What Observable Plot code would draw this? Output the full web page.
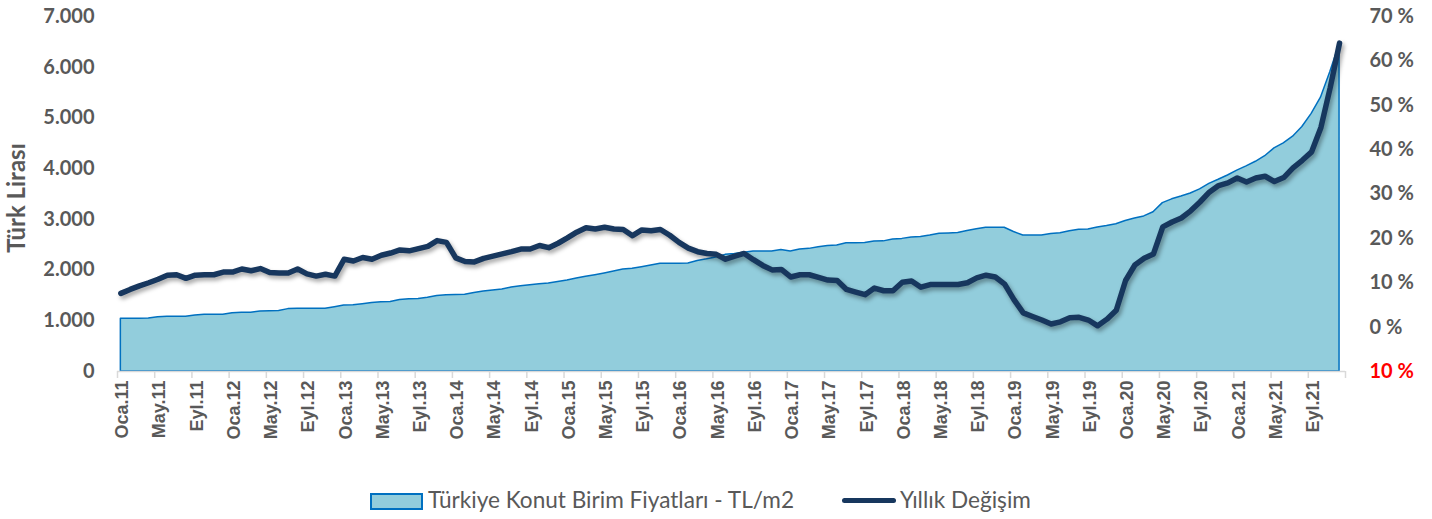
<!DOCTYPE html>
<html>
<head>
<meta charset="utf-8">
<script src="https://cdn.jsdelivr.net/npm/d3@7"></script>
<script src="https://cdn.jsdelivr.net/npm/@observablehq/plot@0.6"></script>
<style>
  html, body { margin: 0; padding: 0; background: #fff; }
  #wrap { position: relative; width: 1432px; height: 519px; overflow: hidden; }
  #legend { position: absolute; top: 487px; left: 0; width: 1432px; height: 28px; font-family: Lato, sans-serif; font-size: 22.6px; color: #595959; }
  #legend .t { position: absolute; top: 0; line-height: 26px; white-space: nowrap; }
  #legend .sw { position: absolute; top: 6px; left: 370px; width: 49px; height: 13px; background: #92CDDC; border: 2px solid #0070C0; }
  #legend .ln { position: absolute; top: 11px; left: 842px; width: 54px; height: 5px; background: #17375E; border-radius: 3px; }
</style>
</head>
<body>
<div id="wrap">
  <div id="chart"></div>
  <div id="legend">
    <span class="sw"></span>
    <span class="t" style="left:428px">Türkiye Konut Birim Fiyatları - TL/m2</span>
    <span class="ln"></span>
    <span class="t" style="left:900px">Yıllık Değişim</span>
  </div>
</div>
<script>
// Monthly data Oca.2011 – Ara.2021
const priceTL = [
  1039, 1039, 1039, 1045, 1072, 1078, 1078, 1078, 1105, 1118, 1118, 1120,
  1150, 1157, 1158, 1182, 1190, 1195, 1230, 1236, 1236, 1236, 1236, 1268,
  1302, 1304, 1325, 1350, 1367, 1370, 1410, 1426, 1428, 1455, 1490, 1505,
  1510, 1515, 1550, 1578, 1597, 1615, 1655, 1680, 1703, 1720, 1735, 1765,
  1796, 1833, 1870, 1900, 1933, 1970, 2010, 2024, 2057, 2090, 2124, 2124,
  2124, 2130, 2180, 2212, 2250, 2300, 2318, 2343, 2367, 2367, 2367, 2398,
  2367, 2405, 2418, 2450, 2475, 2485, 2530, 2531, 2535, 2565, 2566, 2603,
  2615, 2643, 2650, 2680, 2716, 2722, 2730, 2770, 2806, 2834, 2834, 2834,
  2750, 2682, 2682, 2682, 2710, 2728, 2765, 2795, 2800, 2840, 2870, 2905,
  2968, 3015, 3058, 3140, 3320, 3395, 3450, 3510, 3590, 3700, 3780, 3865,
  3960, 4045, 4135, 4245, 4400, 4500, 4630, 4820, 5080, 5400, 5900, 6450
];
const yoyChange = [
  7.6, 8.5, 9.3, 10.0, 10.8, 11.7, 11.8, 11.0, 11.7, 11.8, 11.8, 12.4,
  12.4, 13.1, 12.7, 13.2, 12.3, 12.2, 12.2, 13.1, 12.0, 11.5, 11.9, 11.5,
  15.3, 14.9, 15.7, 15.3, 16.2, 16.7, 17.4, 17.2, 17.7, 18.2, 19.5, 19.1,
  15.6, 14.8, 14.7, 15.5, 16.0, 16.5, 17.0, 17.6, 17.6, 18.4, 17.9, 18.9,
  20.1, 21.4, 22.4, 22.1, 22.5, 22.1, 22.0, 20.6, 21.9, 21.7, 22.0, 20.7,
  19.1, 17.8, 17.0, 16.6, 16.4, 15.3, 16.0, 16.6, 15.2, 13.9, 12.9, 13.0,
  11.3, 11.8, 11.8, 11.2, 10.6, 10.5, 8.5, 7.9, 7.3, 8.8, 8.2, 8.2,
  10.1, 10.4, 9.0, 9.6, 9.6, 9.6, 9.6, 10.0, 11.1, 11.7, 11.3, 9.7,
  6.2, 3.2, 2.4, 1.6, 0.7, 1.2, 2.1, 2.2, 1.6, 0.3, 1.8, 3.8,
  10.5, 14.0, 15.5, 16.5, 22.6, 23.7, 24.6, 26.2, 28.2, 30.4, 31.9, 32.5,
  33.6, 32.7, 33.6, 34.0, 32.8, 33.7, 35.9, 37.6, 39.5, 45.0, 54.0, 64.0
];
const tickLabels = [
  "Oca.11","May.11","Eyl.11","Oca.12","May.12","Eyl.12","Oca.13","May.13","Eyl.13",
  "Oca.14","May.14","Eyl.14","Oca.15","May.15","Eyl.15","Oca.16","May.16","Eyl.16",
  "Oca.17","May.17","Eyl.17","Oca.18","May.18","Eyl.18","Oca.19","May.19","Eyl.19",
  "Oca.20","May.20","Eyl.20","Oca.21","May.21","Eyl.21"
];
const leftTicks = [0, 1000, 2000, 3000, 4000, 5000, 6000, 7000];
const pctTicks = [0, 10, 20, 30, 40, 50, 60, 70];
const negPctTicks = [-10];

const pctMin = -10, pctMax = 70, tlMax = 7000;
const toTL = p => (p - pctMin) * tlMax / (pctMax - pctMin);
const pos = i => i + 0.36;

const data = priceTL.map((v, i) => ({i, tl: v, pct: yoyChange[i]}));
const tickIdx = tickLabels.map((_, k) => k * 4);
const fmt = d3.formatLocale({decimal: ",", thousands: ".", grouping: [3], currency: ["", ""]}).format(",");

const gray = "#595959";
const chart = Plot.plot({
  width: 1432,
  height: 460,
  marginLeft: 117,
  marginRight: 87,
  marginTop: 16,
  marginBottom: 89,
  x: {type: "linear", domain: [0, 132]},
  y: {domain: [0, tlMax]},
  style: {fontFamily: "Lato, sans-serif", background: "#fff", overflow: "visible"},
  marks: [
    Plot.areaY(data, {x: d => pos(d.i), y: "tl", fill: "#92CDDC", stroke: "#0070C0", strokeWidth: 1.5}),
    Plot.ruleY([0], {stroke: "#D9D9D9", strokeWidth: 1.5}),
    Plot.axisX({ticks: tickIdx.concat([132]), tickSize: 7, tickFormat: () => "", stroke: "#D9D9D9", strokeWidth: 1.5, label: null}),
    Plot.axisX({ticks: tickIdx, tickSize: 0, tickPadding: 9, tickRotate: -90, dx: 5,
      tickFormat: i => tickLabels[i / 4], fontSize: 18, fontWeight: "bold", fill: gray,
      fontFamily: "Liberation Sans", label: null}),
    Plot.axisY({ticks: leftTicks, tickSize: 0, tickPadding: 23, tickFormat: fmt,
      fontSize: 20, fontWeight: "bold", fill: gray, label: null}),
    Plot.axisY({anchor: "right", ticks: pctTicks.map(toTL), tickSize: 0, tickPadding: 24,
      tickFormat: v => pctTicks[pctTicks.map(toTL).indexOf(v)] + " %",
      fontSize: 20, fontWeight: "bold", fill: gray, label: null}),
    Plot.axisY({anchor: "right", ticks: negPctTicks.map(toTL), tickSize: 0, tickPadding: 24,
      tickFormat: v => Math.abs(negPctTicks[0]) + " %",
      fontSize: 20, fontWeight: "bold", fill: "#FF0000", label: null}),
    Plot.lineY(data, {x: d => pos(d.i), y: d => toTL(d.pct), stroke: "#17375E", strokeWidth: 5.5,
      strokeLinejoin: "round", strokeLinecap: "round"}),
    Plot.text(["Türk Lirası"], {frameAnchor: "left", textAnchor: "middle", rotate: -90, dx: -100, dy: 4,
      fontSize: 24, fontWeight: "bold", fill: gray})
  ]
});
document.getElementById("chart").appendChild(chart);
d3.select(chart).selectAll('g[aria-label="line"] path')
  .style("filter", "drop-shadow(2px 3px 2px rgba(0,0,0,0.35))");
</script>
</body>
</html>
